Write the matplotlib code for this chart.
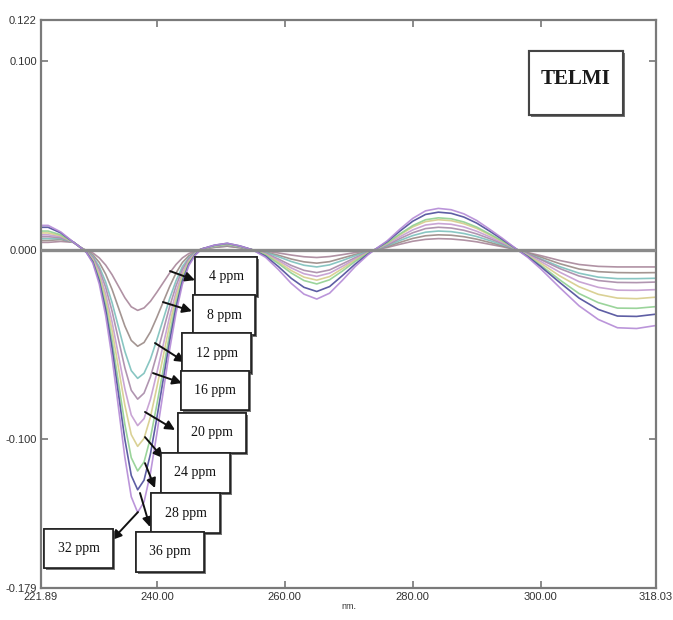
import matplotlib.pyplot as plt
import matplotlib.patheffects as pe
from matplotlib.patches import Rectangle

wl = [221.89, 223, 225, 227, 228,
      229, 230, 231, 232, 233, 234, 235, 236, 237, 238, 239, 240, 241, 242, 243, 244, 245, 246, 247,
      249, 251, 253, 255,
      257, 259, 261, 263, 265, 267, 269, 271, 273, 274,
      276, 278, 280, 282, 284, 286, 288, 290, 292, 294, 296.4,
      298, 300, 303, 306, 309, 312, 315, 318.03]

conc = ['4 ppm', '8 ppm', '12 ppm', '16 ppm', '20 ppm', '24 ppm', '28 ppm', '32 ppm', '36 ppm']

d4 = [0.004, 0.004, 0.0045, 0.004, 0.0015,
      -0.0003, -0.0016, -0.0042, -0.0080, -0.0131, -0.0192, -0.0253, -0.0301, -0.032, -0.0307, -0.0272, -0.0224,
      -0.0173, -0.0122, -0.0077, -0.0042, -0.0019, -0.0006, 0.0005,
      0.0014, 0.002, 0.0012, 0.0,
      -0.0006, -0.0016, -0.0027, -0.0036, -0.004, -0.0035, -0.0025, -0.0014, -0.0004, 0.0,
      0.0013, 0.003, 0.0046, 0.0056, 0.006, 0.0058, 0.0052, 0.0043, 0.003, 0.0017, 0.0,
      -0.0014, -0.003, -0.0056, -0.0077, -0.0087, -0.009, -0.009, -0.009]
d8 = [0.005, 0.005, 0.0055, 0.004, 0.0015,
      -0.0005, -0.0026, -0.0066, -0.0128, -0.0209, -0.0306, -0.0403, -0.0479, -0.051, -0.049, -0.0434, -0.0357,
      -0.0275, -0.0194, -0.0122, -0.0066, -0.0031, -0.001, 0.0005,
      0.0014, 0.002, 0.0012, 0.0,
      -0.0011, -0.0028, -0.0048, -0.0063, -0.007, -0.0062, -0.0043, -0.0024, -0.0007, 0.0,
      0.0018, 0.004, 0.0061, 0.0075, 0.008, 0.0078, 0.007, 0.0057, 0.004, 0.0022, 0.0,
      -0.0017, -0.0038, -0.0073, -0.0101, -0.0115, -0.012, -0.0121, -0.012]
d12 = [0.006, 0.006, 0.006, 0.004, 0.0015,
       -0.0007, -0.0034, -0.0088, -0.017, -0.0279, -0.0408, -0.0537, -0.0639, -0.068, -0.0653, -0.0578, -0.0476,
       -0.0367, -0.0258, -0.0163, -0.0088, -0.0041, -0.0014, 0.0005,
       0.0017, 0.0025, 0.0015, 0.0,
       -0.0014, -0.0036, -0.0061, -0.0081, -0.009, -0.0079, -0.0056, -0.0031, -0.0009, 0.0,
       0.0022, 0.005, 0.0076, 0.0094, 0.010, 0.0097, 0.0087, 0.0071, 0.005, 0.0028, 0.0,
       -0.0021, -0.0047, -0.0089, -0.0123, -0.0144, -0.0152, -0.0152, -0.015]
d16 = [0.007, 0.007, 0.0065, 0.004, 0.0015,
       -0.0008, -0.004, -0.0103, -0.0198, -0.0324, -0.0474, -0.0624, -0.0743, -0.079, -0.0758, -0.0672, -0.0553,
       -0.0427, -0.03, -0.019, -0.0103, -0.0047, -0.0016, 0.0005,
       0.0017, 0.0025, 0.0015, 0.0,
       -0.0018, -0.0048, -0.0082, -0.0108, -0.012, -0.0106, -0.0074, -0.0041, -0.0012, 0.0,
       0.0026, 0.006, 0.0091, 0.0113, 0.012, 0.0116, 0.0104, 0.0085, 0.006, 0.0034, 0.0,
       -0.0022, -0.0051, -0.0099, -0.0138, -0.0162, -0.0172, -0.0173, -0.017]
d20 = [0.008, 0.008, 0.007, 0.004, 0.0015,
       -0.0009, -0.0047, -0.0121, -0.0233, -0.0381, -0.0558, -0.0735, -0.0874, -0.093, -0.0893, -0.0791, -0.0651,
       -0.0502, -0.0353, -0.0223, -0.0121, -0.0056, -0.0019, 0.0005,
       0.0021, 0.003, 0.0018, 0.0,
       -0.0021, -0.0056, -0.0095, -0.0126, -0.014, -0.0123, -0.0087, -0.0048, -0.0014, 0.0,
       0.0031, 0.007, 0.0106, 0.0132, 0.014, 0.0136, 0.0122, 0.0099, 0.007, 0.0039, 0.0,
       -0.0026, -0.0061, -0.0118, -0.0168, -0.0198, -0.0213, -0.0214, -0.021]
d24 = [0.009, 0.009, 0.0075, 0.004, 0.0015,
       -0.001, -0.0052, -0.0135, -0.026, -0.0426, -0.0624, -0.0822, -0.0978, -0.104, -0.0998, -0.0884, -0.0728,
       -0.0562, -0.0395, -0.025, -0.0135, -0.0062, -0.0021, 0.0005,
       0.0021, 0.003, 0.0018, 0.0,
       -0.0024, -0.0064, -0.0109, -0.0144, -0.016, -0.0141, -0.0099, -0.0054, -0.0016, 0.0,
       0.0035, 0.008, 0.0122, 0.015, 0.016, 0.0155, 0.0139, 0.0114, 0.008, 0.0045, 0.0,
       -0.003, -0.007, -0.0138, -0.0195, -0.0235, -0.0255, -0.0258, -0.025]
d28 = [0.010, 0.010, 0.008, 0.004, 0.0015,
       -0.0012, -0.0059, -0.0152, -0.0293, -0.048, -0.0702, -0.0924, -0.11, -0.117, -0.1123, -0.0995, -0.0819,
       -0.0632, -0.0445, -0.0281, -0.0152, -0.007, -0.0023, 0.0005,
       0.0021, 0.003, 0.0018, 0.0,
       -0.0027, -0.0072, -0.0122, -0.0162, -0.018, -0.0158, -0.0112, -0.0061, -0.0018, 0.0,
       0.0037, 0.0085, 0.0129, 0.016, 0.017, 0.0165, 0.0148, 0.0121, 0.0085, 0.0048, 0.0,
       -0.0033, -0.0081, -0.0159, -0.0231, -0.0279, -0.0308, -0.0309, -0.030]
d32 = [0.012, 0.012, 0.009, 0.004, 0.0015,
       -0.0013, -0.0064, -0.0165, -0.0318, -0.0521, -0.0762, -0.1003, -0.1194, -0.127, -0.1219, -0.108, -0.0889,
       -0.0686, -0.0483, -0.0305, -0.0165, -0.0076, -0.0025, 0.0005,
       0.0025, 0.0035, 0.0021, 0.0,
       -0.0033, -0.0088, -0.015, -0.0198, -0.022, -0.0194, -0.0136, -0.0075, -0.0022, 0.0,
       0.0044, 0.01, 0.0152, 0.0188, 0.020, 0.0194, 0.0174, 0.0142, 0.01, 0.0056, 0.0,
       -0.0036, -0.0088, -0.0173, -0.0255, -0.0315, -0.035, -0.0352, -0.034]
d36 = [0.013, 0.013, 0.0095, 0.004, 0.0015,
       -0.0014, -0.007, -0.0181, -0.0348, -0.057, -0.0834, -0.1098, -0.1307, -0.139, -0.1334, -0.1182, -0.0973,
       -0.0751, -0.0528, -0.0334, -0.0181, -0.0083, -0.0028, 0.0005,
       0.0025, 0.0035, 0.0021, 0.0,
       -0.0039, -0.0104, -0.0177, -0.0234, -0.026, -0.0229, -0.0161, -0.0088, -0.0026, 0.0,
       0.0048, 0.011, 0.0167, 0.0207, 0.022, 0.0213, 0.0191, 0.0156, 0.011, 0.0062, 0.0,
       -0.004, -0.01, -0.02, -0.0296, -0.0368, -0.0412, -0.0416, -0.040]

series = [d4, d8, d12, d16, d20, d24, d28, d32, d36]
colors = ['#a8869a', '#9a8a86', '#7cc0bc', '#a88aa8', '#c39bd0',
          '#d6cc8a', '#90d090', '#4c4c9a', '#b48ad6']

xticks = [221.89, 240, 260, 280, 300, 318.03]
xticklabels = ['221.89', '240.00', '260.00', '280.00', '300.00', '318.03']
yticks = [0.122, 0.100, 0.0, -0.100, -0.179]
yticklabels = ['0.122', '0.100', '0.000', '-0.100', '-0.179']

# label box centres and arrows (tail on the curves, head at the box)
label_pos = [(250.81, -0.0141), (250.50, -0.0345), (249.33, -0.0546), (249.09, -0.0744), (248.62, -0.0969),
             (246.04, -0.1181), (244.48, -0.1393), (227.75, -0.1581), (242.06, -0.1599)]
arrow_tail = [(242.06, -0.0112), (240.96, -0.0276), (239.71, -0.0493), (239.40, -0.0652), (238.15, -0.0858),
              (238.15, -0.0991), (238.15, -0.1129), (237.05, -0.1388), (237.37, -0.1287)]
arrow_head = [(245.96, -0.0160), (245.49, -0.0324), (244.40, -0.0594), (243.93, -0.0705), (242.84, -0.0953),
              (240.96, -0.1102), (239.71, -0.1261), (232.99, -0.1536), (238.93, -0.1467)]

fig = plt.figure(figsize=(6.73, 6.20), dpi=100)
ax = fig.add_axes([0.0609, 0.0516, 0.9139, 0.9169])

for vals, col in zip(series, colors):
    ax.plot(wl, vals, color=col, lw=1.2, alpha=0.9)

ax.axhline(0, color='#8a8a8a', lw=2.4, zorder=3)

ax.set_xlim(221.89, 318.03)
ax.set_ylim(-0.179, 0.122)
ax.set_xticks(xticks)
ax.set_xticklabels(xticklabels, family='Liberation Sans')
ax.set_yticks(yticks)
ax.set_yticklabels(yticklabels, family='Liberation Sans')
ax.tick_params(direction='in', top=True, right=True, length=5, width=1.2,
               color='#777777', labelsize=8, labelcolor='#333333', pad=3)
for s in ax.spines.values():
    s.set_color('#7a7a7a')
    s.set_linewidth(1.6)
ax.set_xlabel('nm.', fontsize=6.5, labelpad=0, color='#333333', family='Liberation Sans')

shadow = [pe.withSimplePatchShadow(offset=(1.5, -1.5), shadow_rgbFace='#555555', alpha=0.8), pe.Normal()]
for name, pos, t, h in zip(conc, label_pos, arrow_tail, arrow_head):
    ax.annotate('', xy=h, xytext=t,
                arrowprops=dict(arrowstyle='-|>', color='#111111', lw=1.4, mutation_scale=14,
                                shrinkA=0, shrinkB=0), zorder=5)
    txt = ax.text(pos[0], pos[1], name, ha='center', va='center', fontsize=10,
                  family='Liberation Serif', color='#111111', zorder=6,
                  bbox=dict(boxstyle='square,pad=0.95', fc='white', ec='#222222', lw=1.2))
    txt.get_bbox_patch().set_path_effects(shadow)

box = Rectangle((298.17, 0.0714), 14.70, 0.0339, fc='white', ec='#444444', lw=1.5, zorder=5)
box.set_path_effects(shadow)
ax.add_patch(box)
ax.text(305.52, 0.0905, 'TELMI', ha='center', va='center', fontsize=15, fontweight='bold',
        family='Liberation Serif', color='#1a1a1a', zorder=6)

plt.savefig('out.png', dpi=100)
